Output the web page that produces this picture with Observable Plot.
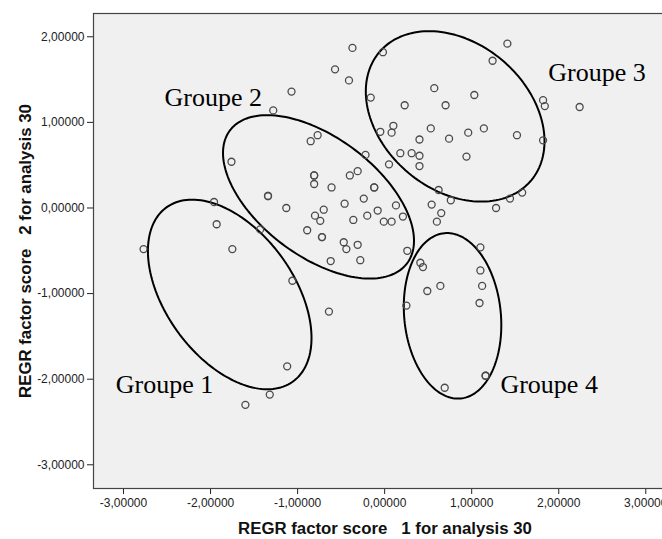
<!DOCTYPE html>
<html>
<head>
<meta charset="utf-8">
<script src="https://cdn.jsdelivr.net/npm/d3@7"></script>
<script src="https://cdn.jsdelivr.net/npm/@observablehq/plot@0.6"></script>
<style>
  html, body { margin: 0; padding: 0; background: #fff; overflow: hidden; }
  svg { max-width: none !important; }
  svg text { white-space: pre; }
</style>
</head>
<body>
<div id="chart"></div>
<script>
// Factor scores (x = factor 1, y = factor 2)
const scoreX = [-0.37,-0.02,-0.57,-0.41,-0.16,0.23,0.57,0.70,1.03,1.41,1.24,1.82,1.84,2.24,1.82,1.52,1.14,0.96,0.94,0.74,
  0.53,0.40,0.10,0.08,-0.05,0.18,0.31,0.40,0.40,0.05,-0.22,0.62,0.76,0.54,0.65,0.60,1.28,1.44,1.58,1.10,
  0.26,0.41,0.44,1.10,0.49,0.64,1.12,1.09,0.25,1.16,1.16,0.69,-0.12,-0.12,-0.40,-0.31,-0.61,-0.24,-0.46,-0.08,
  -0.20,0.13,0.21,-0.01,0.08,-0.36,-0.47,-0.44,-0.31,-0.28,-0.62,-1.76,-0.81,-0.81,-0.81,-1.34,-1.34,-1.13,-0.70,-0.80,
  -0.74,-0.89,-0.72,-0.72,-1.96,-1.93,-1.43,-1.75,-1.06,-1.07,-1.28,-0.85,-0.77,-2.77,-0.64,-1.12,-1.32,-1.60];
const scoreY = [1.87,1.82,1.62,1.49,1.29,1.20,1.40,1.20,1.32,1.92,1.72,1.26,1.19,1.18,0.79,0.85,0.93,0.88,0.60,0.81,
  0.93,0.80,0.96,0.88,0.89,0.64,0.64,0.61,0.49,0.51,0.62,0.21,0.09,0.04,-0.06,-0.16,0.00,0.11,0.18,-0.46,
  -0.50,-0.64,-0.69,-0.73,-0.97,-0.91,-0.91,-1.11,-1.14,-1.96,-1.96,-2.10,0.24,0.24,0.38,0.43,0.24,0.11,0.05,-0.03,
  -0.09,0.03,-0.10,-0.16,-0.16,-0.14,-0.40,-0.48,-0.43,-0.61,-0.62,0.54,0.38,0.38,0.28,0.14,0.14,0.00,-0.02,-0.09,
  -0.15,-0.26,-0.34,-0.34,0.07,-0.19,-0.25,-0.48,-0.85,1.36,1.14,0.78,0.85,-0.48,-1.21,-1.85,-2.18,-2.30];

// Group ellipses (data units)
const groupNames = ["Groupe 1","Groupe 2","Groupe 3","Groupe 4"];
const ellipseCX = [-1.78,-0.76,0.81,0.78];
const ellipseCY = [-1.01,0.13,1.07,-1.26];
const ellipseA  = [1.25,1.28,1.15,0.97];
const ellipseB  = [0.74,0.69,0.85,0.555];
const ellipseAngle = [-54.9,-37.7,-42,-84.5];

// Group labels
const labelX = [-2.53,-1.97,2.44,1.89];
const labelY = [-2.06,1.29,1.58,-2.06];

const xTicks = [-3,-2,-1,0,1,2,3];
const yTicks = [-3,-2,-1,0,1,2];
const xTitle = "REGR factor score   1 for analysis 30";
const yTitle = "REGR factor score   2 for analysis 30";

const points = scoreX.map((x, i) => ({x, y: scoreY[i]}));
const ellipsePts = [];
groupNames.forEach((g, k) => {
  const th = ellipseAngle[k] * Math.PI / 180;
  const N = 160;
  for (let i = 0; i <= N; i++) {
    const t = 2 * Math.PI * i / N;
    ellipsePts.push({
      group: g,
      x: ellipseCX[k] + ellipseA[k] * Math.cos(t) * Math.cos(th) - ellipseB[k] * Math.sin(t) * Math.sin(th),
      y: ellipseCY[k] + ellipseA[k] * Math.cos(t) * Math.sin(th) + ellipseB[k] * Math.sin(t) * Math.cos(th)
    });
  }
});
const labels = groupNames.map((g, i) => ({text: g, x: labelX[i], y: labelY[i]}));
const fmt = d => d.toFixed(5).replace(".", ",");

const chart = Plot.plot({
  width: 680,
  height: 539,
  marginLeft: 93,
  marginRight: 10,
  marginTop: 13,
  marginBottom: 51,
  style: {fontFamily: "'Liberation Sans', Arial, sans-serif", fontSize: "12px", color: "#222", background: "#fff", maxWidth: "none"},
  x: {domain: [-3.345, 3.284], ticks: xTicks, tickFormat: fmt, label: null, tickSize: 6, tickPadding: 4},
  y: {domain: [-3.277, 2.272], ticks: yTicks, tickFormat: fmt, label: null, tickSize: 6, tickPadding: 3},
  marks: [
    Plot.frame({fill: "#f0f0f0", stroke: null}),
    Plot.line(ellipsePts, {x: "x", y: "y", z: "group", stroke: "#000", strokeWidth: 2, curve: "linear"}),
    Plot.dot(points, {x: "x", y: "y", r: 3.5, stroke: "#4a4a4a", strokeWidth: 1.3, fill: "none"}),
    Plot.text(labels, {x: "x", y: "y", text: "text", fontFamily: "'Liberation Serif', 'Times New Roman', serif", fontSize: 26, fill: "#000"}),
    Plot.text([xTitle], {frameAnchor: "bottom", textAnchor: "middle", dx: 3, dy: 45, fontWeight: "bold", fontSize: 16.8, fill: "#111"}),
    Plot.text([yTitle], {frameAnchor: "left", textAnchor: "middle", dx: -68, rotate: -90, fontWeight: "bold", fontSize: 16.8, fill: "#111"}),
    Plot.frame({stroke: "#444", strokeWidth: 1.2})
  ]
});
document.getElementById("chart").appendChild(chart);
</script>
</body>
</html>
